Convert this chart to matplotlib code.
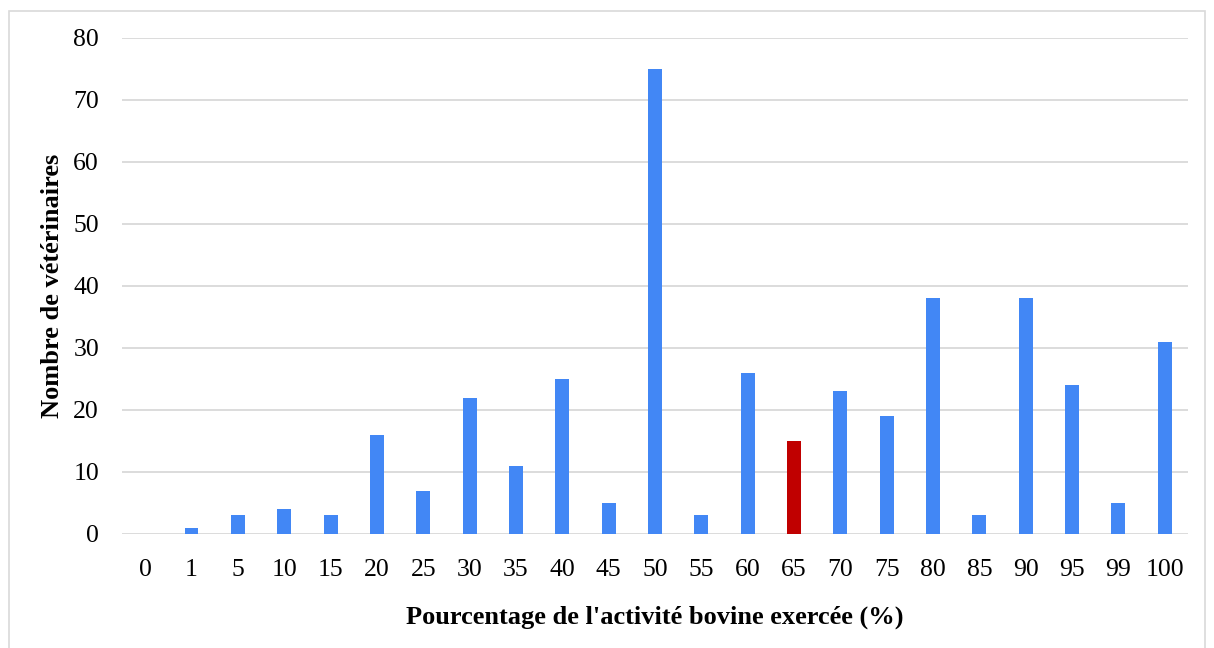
import matplotlib
matplotlib.use("Agg")
import matplotlib.pyplot as plt
from matplotlib.patches import Rectangle
import numpy as np

categories = ["0", "1", "5", "10", "15", "20", "25", "30", "35", "40", "45", "50",
              "55", "60", "65", "70", "75", "80", "85", "90", "95", "99", "100"]
counts = [0, 1, 3, 4, 3, 16, 7, 22, 11, 25, 5, 75, 3, 26, 15, 23, 19, 38, 3, 38, 24, 5, 31]
highlight = "65"

plt.rcParams["font.family"] = ["Liberation Serif", "DejaVu Serif"]

fig = plt.figure(figsize=(12.14, 6.48), dpi=100)
ax = fig.add_axes([0.1005, 0.176, 0.878, 0.7655])

# outer frame of the chart
fig.patches.append(Rectangle((9 / 1214, -0.01), 1196 / 1214, 1 - 11 / 648 + 0.01,
                             transform=fig.transFigure, fill=False,
                             edgecolor="#d9d9d9", linewidth=1.2))

x = np.arange(len(categories))
colors = ["#c00000" if c == highlight else "#4287f5" for c in categories]
ax.bar(x, counts, width=0.3, color=colors, zorder=3)

ax.set_xlim(-0.5, len(categories) - 0.5)
ax.set_ylim(0, 80)
ax.set_yticks(range(0, 81, 10))
ax.set_xticks(x)
ax.set_xticklabels(categories)
ax.grid(axis="y", color="#d9d9d9", linewidth=1.3, zorder=0)
for s in ax.spines.values():
    s.set_visible(False)
ax.tick_params(axis="both", length=0, labelsize=18.5)
ax.tick_params(axis="x", pad=18)
ax.tick_params(axis="y", pad=16.5)

ax.set_xlabel("Pourcentage de l'activité bovine exercée (%)", fontsize=19,
              fontweight="bold", labelpad=18)
ax.set_ylabel("Nombre de vétérinaires", fontsize=19, fontweight="bold", labelpad=6.5)

fig.savefig("out.png", dpi=100)
